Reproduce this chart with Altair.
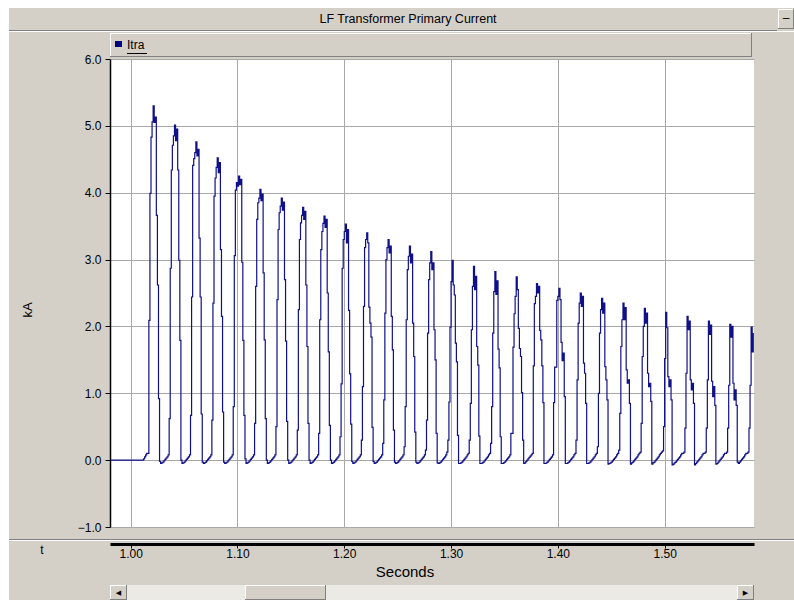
import altair as alt
import pandas as pd

# ---------------- data ----------------
t_first = 0.981          # time of first sample (s)
t_step = 0.001           # sample spacing (s)

lead = [0.0, 0.0, 0.0, 0.0, 0.0, 0.0, 0.0, 0.0, 0.0, 0.0,
        0.0, 0.0, 0.0, 0.0, 0.0, 0.0, 0.0, 0.0, 0.0, 0.0,
        0.0, 0.0, 0.0, 0.0, 0.0, 0.0, 0.0, 0.0, 0.0, 0.0,
        0.0, 0.02, 0.05, 0.08, 0.10, 0.10]

pulses = [
    [2.09, 3.99, 4.83, 5.06, 5.30, 5.05, 5.13, 3.66, 2.62, 0.92, -0.02, -0.05, -0.04, -0.03, -0.01, 0.01, 0.03, 0.05, 0.08, 0.62],
    [2.87, 4.34, 4.71, 4.85, 5.01, 4.78, 4.95, 4.34, 2.99, 1.79, 0.00, -0.05, -0.04, -0.03, -0.01, 0.01, 0.03, 0.05, 0.08, 0.67],
    [2.44, 4.41, 4.51, 4.60, 4.76, 4.55, 4.65, 3.32, 2.44, 0.69, -0.03, -0.05, -0.04, -0.03, -0.01, 0.01, 0.03, 0.05, 0.08, 0.60],
    [2.35, 3.95, 4.22, 4.38, 4.52, 4.30, 4.45, 3.15, 2.15, 0.72, -0.03, -0.05, -0.04, -0.03, -0.01, 0.01, 0.03, 0.05, 0.08, 0.80],
    [3.06, 4.04, 4.15, 4.10, 4.25, 4.12, 4.20, 2.96, 1.79, 0.67, 0.02, -0.05, -0.04, -0.03, -0.01, 0.01, 0.03, 0.05, 0.08, 0.55],
    [2.60, 3.60, 3.85, 3.92, 4.05, 3.88, 3.98, 2.80, 1.80, 0.62, 0.00, -0.05, -0.04, -0.03, -0.01, 0.01, 0.03, 0.05, 0.08, 0.50],
    [2.40, 3.45, 3.70, 3.80, 3.92, 3.74, 3.86, 2.70, 1.78, 0.58, 0.00, -0.05, -0.04, -0.03, -0.01, 0.01, 0.03, 0.05, 0.08, 0.45],
    [2.25, 3.30, 3.55, 3.66, 3.78, 3.60, 3.72, 2.62, 1.70, 0.55, 0.00, -0.05, -0.04, -0.03, -0.01, 0.01, 0.03, 0.05, 0.08, 0.40],
    [2.10, 3.15, 3.42, 3.54, 3.65, 3.48, 3.60, 2.50, 1.62, 0.52, 0.00, -0.05, -0.04, -0.03, -0.01, 0.01, 0.03, 0.05, 0.08, 0.35],
    [1.14, 2.87, 3.30, 3.42, 3.53, 3.25, 3.45, 2.24, 1.29, 0.54, -0.02, -0.05, -0.04, -0.03, -0.01, 0.01, 0.03, 0.05, 0.08, 0.30],
    [1.10, 2.30, 3.18, 3.30, 3.40, 3.25, 2.29, 2.05, 1.84, 0.49, -0.02, -0.05, -0.04, -0.03, -0.01, 0.01, 0.03, 0.05, 0.08, 0.25],
    [0.90, 2.20, 3.00, 3.18, 3.30, 3.10, 3.20, 2.15, 1.65, 0.45, -0.03, -0.05, -0.04, -0.03, -0.01, 0.01, 0.03, 0.05, 0.08, 0.20],
    [0.80, 2.10, 2.85, 3.05, 3.20, 2.95, 3.08, 2.05, 1.55, 0.42, -0.03, -0.05, -0.04, -0.03, -0.01, 0.01, 0.03, 0.05, 0.08, 0.15],
    [0.60, 1.90, 2.70, 2.95, 3.12, 2.85, 2.95, 1.95, 1.50, 0.40, -0.04, -0.05, -0.04, -0.03, -0.01, 0.01, 0.03, 0.05, 0.08, 0.12],
    [0.30, 0.87, 1.99, 2.67, 2.99, 2.62, 2.47, 1.75, 1.47, 0.37, -0.05, -0.05, -0.04, -0.03, -0.01, 0.01, 0.03, 0.05, 0.08, 0.10],
    [0.30, 0.85, 1.95, 2.60, 2.90, 2.55, 2.75, 1.70, 1.42, 0.36, -0.05, -0.05, -0.04, -0.03, -0.01, 0.01, 0.03, 0.05, 0.08, 0.10],
    [0.25, 0.80, 1.90, 2.52, 2.82, 2.48, 2.68, 1.66, 1.38, 0.35, -0.05, -0.05, -0.04, -0.03, -0.01, 0.01, 0.03, 0.05, 0.08, 0.40],
    [0.40, 1.69, 2.19, 2.45, 2.74, 2.55, 1.97, 1.67, 1.55, 1.01, 0.30, -0.05, -0.04, -0.02, 0.00, 0.02, 0.04, 0.06, 0.08, 0.10],
    [1.41, 2.34, 2.45, 2.64, 2.50, 2.60, 1.94, 1.80, 1.41, 0.86, -0.05, -0.05, -0.04, -0.03, -0.01, 0.01, 0.03, 0.05, 0.08, 0.86],
    [1.39, 1.39, 2.39, 2.45, 2.57, 2.40, 1.76, 1.49, 1.60, 0.95, -0.05, -0.05, -0.04, -0.03, -0.01, 0.01, 0.03, 0.05, 0.08, 0.10],
    [0.30, 1.20, 2.05, 2.35, 2.50, 2.30, 2.45, 1.45, 1.30, 0.85, -0.05, -0.05, -0.04, -0.03, -0.01, 0.01, 0.03, 0.05, 0.08, 0.10],
    [0.20, 1.00, 1.90, 2.25, 2.42, 2.20, 2.35, 1.40, 1.20, 0.90, -0.06, -0.05, -0.04, -0.03, -0.01, 0.01, 0.03, 0.05, 0.08, 0.10],
    [0.15, 0.70, 1.70, 2.10, 2.35, 2.10, 2.28, 1.35, 1.15, 1.20, 0.85, -0.06, -0.04, -0.03, -0.01, 0.01, 0.03, 0.05, 0.08, 0.10],
    [0.12, 0.55, 1.55, 2.00, 2.27, 2.05, 2.20, 1.30, 1.10, 1.15, 0.88, -0.06, -0.04, -0.03, -0.01, 0.01, 0.03, 0.05, 0.08, 0.10],
    [0.12, 0.14, 0.50, 1.52, 2.21, 1.98, 1.25, 1.10, 1.20, 0.90, -0.07, -0.06, -0.04, -0.03, -0.01, 0.01, 0.03, 0.05, 0.08, 0.10],
    [0.10, 0.12, 0.48, 1.30, 2.15, 1.95, 2.08, 1.20, 1.05, 1.15, 0.85, -0.07, -0.05, -0.03, -0.01, 0.01, 0.03, 0.05, 0.08, 0.10],
    [0.10, 0.12, 0.48, 1.20, 2.08, 1.88, 2.02, 1.18, 0.95, 1.10, 0.82, -0.06, -0.05, -0.03, -0.01, 0.01, 0.03, 0.05, 0.08, 0.10],
    [0.10, 0.12, 0.48, 1.12, 2.03, 1.84, 2.00, 1.15, 0.90, 1.05, 0.82, -0.03, -0.05, -0.03, -0.01, 0.01, 0.03, 0.05, 0.08, 0.10],
    [0.10, 0.12, 0.48, 1.12, 1.99, 1.62, 1.90],
]

x_ticks = [1.00, 1.10, 1.20, 1.30, 1.40, 1.50]
y_ticks = [-1.0, 0.0, 1.0, 2.0, 3.0, 4.0, 5.0, 6.0]
x_domain = [0.9806, 1.5837]
y_domain = [-1.0, 6.0]

title_text = "LF Transformer Primary Current"
legend_text = "Itra"
x_title = "Seconds"
y_title = "kA"
corner_text = "t"

# ---------------- build table ----------------
values = list(lead)
for p in pulses:
    values.extend(p)
times = [round(t_first + t_step * k, 4) for k in range(len(values))]
df = pd.DataFrame({"t": times, "Itra": values})

# ---------------- layout ----------------
PX, PY = 110, 59          # plot origin on the page
W, H = 644, 468           # plot area
GRAY = "#D4D0C8"
DARK = "#808080"
FONT = "Liberation Sans"
one = pd.DataFrame({"k": [0]})


def rect(x1, y1, x2, y2, color):
    return alt.Chart(one).mark_rect(color=color).encode(
        x=alt.value(x1 - PX), x2=alt.value(x2 - PX),
        y=alt.value(y1 - PY), y2=alt.value(y2 - PY))


def rule(x1, y1, x2, y2, color, w=1.0):
    return alt.Chart(one).mark_rule(color=color, strokeWidth=w).encode(
        x=alt.value(x1 - PX), x2=alt.value(x2 - PX),
        y=alt.value(y1 - PY), y2=alt.value(y2 - PY))


def text(x, y, s, size=12, align="center", angle=0, color="black", font=FONT):
    return alt.Chart(one).mark_text(
        text=s, fontSize=size, align=align, baseline="middle",
        angle=angle, color=color, font=font).encode(
        x=alt.value(x - PX), y=alt.value(y - PY))


def raised(x1, y1, x2, y2):
    return [
        rect(x1, y1, x2, y2, GRAY),
        rule(x1, y1 + 0.5, x2, y1 + 0.5, "white"),
        rule(x1 + 0.5, y1, x1 + 0.5, y2, "white"),
        rule(x1, y2 - 0.5, x2, y2 - 0.5, DARK),
        rule(x2 - 0.5, y1, x2 - 0.5, y2, DARK),
    ]


deco_back = [
    rect(0, 0, 794, 8, "white"),
    rect(0, 0, 9, 600, "white"),
    # title bar border
    rule(9, 30.5, 777, 30.5, DARK),
    rule(9, 31.5, 794, 31.5, "white"),
    # bottom separator
    rule(9, 539.5, 794, 539.5, DARK),
    rule(9, 540.5, 794, 540.5, "white"),
]
deco_back += raised(778, 9, 794, 29)
deco_back += raised(110, 33, 752, 57)
deco_back += [
    # scrollbar track
    rect(110, 585, 754, 600, "#ECEAE4"),
]
deco_back += raised(110, 585, 127, 600)
deco_back += raised(245, 585, 326, 600)
deco_back += raised(737, 585, 754, 600)

deco_front = [
    text(408, 19, title_text, size=12.5),
    text(786, 18, "\u2013", size=12),
    rect(115, 41, 122, 47, "#000080"),
    text(127, 45, legend_text, size=12, align="left"),
    rule(127, 53.5, 147, 53.5, "black"),
    text(28, 310, y_title, size=13, angle=270),
    text(42, 550, corner_text, size=12),
    text(405, 572, x_title, size=15),
    text(118.5, 592.5, "\u25C0", size=7, font="DejaVu Sans"),
    text(745.5, 592.5, "\u25B6", size=7, font="DejaVu Sans"),
]

line = alt.Chart(df).mark_line(
    interpolate="step-after", color="#101088", strokeWidth=1.2, clip=True
).encode(
    x=alt.X("t:Q",
            scale=alt.Scale(domain=x_domain, nice=False, zero=False),
            axis=alt.Axis(values=x_ticks, format=".2f", offset=17, title=None,
                          domainColor="black", domainWidth=3,
                          tickColor="black", tickSize=4, tickWidth=1,
                          labelFontSize=12, labelColor="black", labelFont=FONT,
                          labelPadding=0,
                          grid=True, gridColor="#A8A8A8", gridWidth=1)),
    y=alt.Y("Itra:Q",
            scale=alt.Scale(domain=y_domain, nice=False, zero=False),
            axis=alt.Axis(values=y_ticks, format=".1f", title=None,
                          domainColor="black", domainWidth=1.5,
                          tickColor="black", tickSize=5, tickWidth=1,
                          labelFontSize=12, labelColor="black", labelFont=FONT,
                          labelPadding=4,
                          grid=True, gridColor="#A8A8A8", gridWidth=1)),
)

chart = alt.layer(*deco_back, line, *deco_front).properties(
    width=W, height=H,
    autosize=alt.AutoSizeParams(type="none"),
    padding={"left": PX, "top": PY, "right": 794 - PX - W, "bottom": 600 - PY - H},
    background=GRAY,
).configure_view(fill="white", strokeWidth=0)

chart.save("out.html", embed_options={"renderer": "svg", "actions": False})
